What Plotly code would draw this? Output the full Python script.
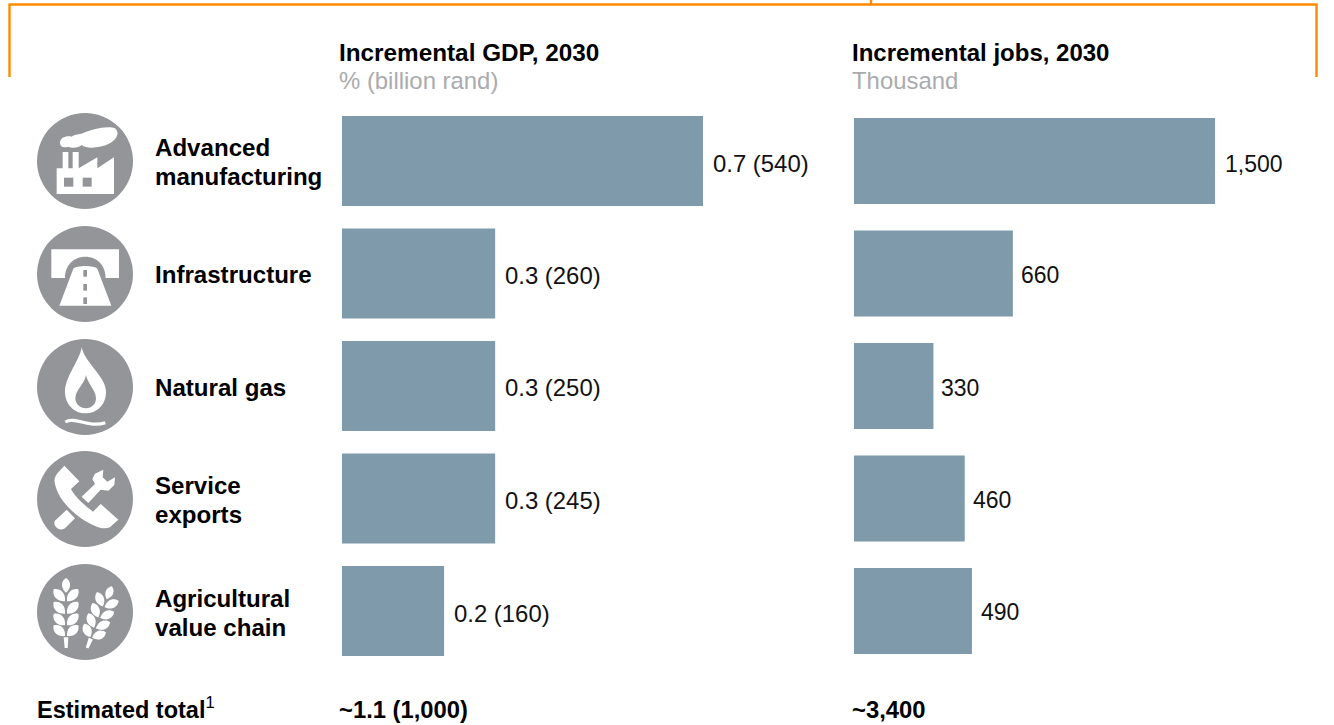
import math
import plotly.graph_objects as go

# ---------- data ----------
categories = ["Advanced<br>manufacturing", "Infrastructure", "Natural gas", "Service<br>exports", "Agricultural<br>value chain"]
gdp_values = [0.7, 0.297, 0.297, 0.297, 0.198]
gdp_labels = ["0.7 (540)", "0.3 (260)", "0.3 (250)", "0.3 (245)", "0.2 (160)"]
jobs_values = [1500, 660, 330, 460, 490]
jobs_labels = ["1,500", "660", "330", "460", "490"]
gdp_title = "Incremental GDP, 2030"
gdp_unit = "% (billion rand)"
jobs_title = "Incremental jobs, 2030"
jobs_unit = "Thousand"
total_label = "Estimated total"
gdp_total = "~1.1 (1,000)"
jobs_total = "~3,400"

# ---------- style ----------
W, H = 1334, 725
FONT = "Liberation Sans, Arial, sans-serif"
BAR = "#7E9AAB"
ICON = "#939598"
ORANGE = "#FF8A00"
SUB = "#A9ABAE"
FS = 24.1


def px(x):
    return x / W


def py(y):
    return 1 - y / H


def path(points_cmds, ox, oy, fill="white", line=None, lw=0):
    """Build a paper-referenced path from (cmd, x, y, ...) tuples given in 3x zoom units."""
    out = []
    for item in points_cmds:
        cmd, nums = item[0], item[1:]
        conv = []
        for i in range(0, len(nums), 2):
            conv.append(f"{px(ox + nums[i] / 3):.5f},{py(oy + nums[i + 1] / 3):.5f}")
        out.append(cmd + " ".join(conv))
    d = " ".join(out) + (" Z" if fill else "")
    s = dict(type="path", xref="paper", yref="paper", path=d, layer="above", line=dict(width=lw, color=line or "rgba(0,0,0,0)"))
    if fill:
        s["fillcolor"] = fill
    return s


def poly(pts, ox, oy, fill="white"):
    return path([("M",) + pts[0]] + [("L",) + p for p in pts[1:]], ox, oy, fill)


def ellipse_circle(cx, cy, r):
    return dict(type="circle", xref="paper", yref="paper", x0=px(cx - r), x1=px(cx + r), y0=py(cy + r), y1=py(cy - r),
                fillcolor=ICON, line=dict(width=0), layer="above")


shapes = []
# orange bracket
for (x0, y0, x1, y1) in [(8.5, 4.5, 1317.5, 4.5), (9.5, 4.5, 9.5, 77), (1316.5, 4.5, 1316.5, 77), (871, 0, 871, 4.5)]:
    shapes.append(dict(type="line", xref="paper", yref="paper", x0=px(x0), x1=px(x1), y0=py(y0), y1=py(y1),
                       line=dict(color=ORANGE, width=2.4)))

centers = [161, 274, 387, 499, 612]
for c in centers:
    shapes.append(ellipse_circle(85, c, 48))

# factory (3x units, zoom origin 0,0)
shapes.append(poly([(170, 582), (170, 505), (188, 505), (188, 456), (205, 456), (205, 505), (218, 505), (218, 456), (236, 456), (236, 505),
                    (292, 472), (292, 505), (342, 472), (342, 582)], 0, 0))
shapes.append(poly([(192, 533), (220, 533), (220, 560), (192, 560)], 0, 0, ICON))
shapes.append(poly([(248, 533), (275, 533), (275, 560), (248, 560)], 0, 0, ICON))
shapes.append(path([("M", 180, 428), ("C", 180, 412, 200, 406, 215, 410), ("C", 225, 402, 238, 405, 248, 400),
                    ("C", 270, 390, 320, 376, 345, 385), ("C", 358, 395, 355, 415, 330, 430), ("C", 300, 445, 260, 448, 245, 435),
                    ("C", 235, 445, 215, 445, 205, 440), ("C", 190, 445, 180, 440, 180, 428)], 0, 0))
# bridge / road
shapes.append(path([("M", 154, 748), ("L", 357, 748), ("L", 357, 834), ("L", 317, 834), ("C", 317, 795, 290, 770, 256, 770),
                    ("C", 222, 770, 195, 795, 195, 834), ("L", 154, 834)], 0, 0))
shapes.append(path([("M", 178, 917), ("L", 334, 917), ("L", 292, 806), ("C", 282, 795, 230, 795, 220, 806)], 0, 0))
for y0 in (810, 852, 892):
    shapes.append(poly([(250, y0), (261, y0), (261, y0 + 20), (250, y0 + 20)], 0, 0, ICON))
# gas flame (zoom origin 0,330)
shapes.append(path([("M", 245, 52), ("C", 240, 90, 195, 140, 195, 185), ("C", 195, 225, 225, 250, 256, 250),
                    ("C", 290, 250, 318, 225, 318, 185), ("C", 318, 140, 255, 100, 245, 52)], 0, 330))
shapes.append(path([("M", 258, 135), ("C", 255, 160, 226, 180, 226, 205), ("C", 226, 222, 240, 235, 258, 235),
                    ("C", 275, 235, 288, 222, 288, 205), ("C", 288, 180, 262, 160, 258, 135)], 0, 330, ICON))
shapes.append(path([("M", 196, 276), ("C", 225, 258, 265, 295, 316, 278)], 0, 330, fill=None, line="white", lw=3.2))
# phone and wrench (zoom origin 35,449)
shapes.append(path([("M", 88, 50), ("L", 133, 97), ("L", 108, 120), ("C", 122, 146, 148, 168, 174, 188), ("L", 197, 165), ("L", 250, 212),
                    ("L", 232, 228), ("C", 225, 238, 210, 240, 195, 236), ("C", 145, 222, 72, 165, 60, 105), ("C", 56, 92, 60, 82, 68, 72)], 35, 449))
shapes.append(poly([(140, 143), (180, 105), (172, 90), (180, 74), (205, 62), (203, 85), (217, 98), (240, 85), (238, 108), (220, 125),
                    (197, 122), (160, 162)], 35, 449))
shapes.append(path([("M", 95, 182), ("L", 120, 208), ("L", 90, 238), ("C", 80, 245, 66, 240, 60, 230), ("C", 56, 222, 58, 216, 63, 212)], 35, 449))


# wheat (zoom origin 35,562)
def leaf(bx, by, tx, ty, w):
    dx, dy = tx - bx, ty - by
    L = math.hypot(dx, dy)
    nx, ny = -dy / L * w, dx / L * w
    return [(bx, by), (bx + dx * .35 + nx, by + dy * .35 + ny), (bx + dx * .8 + nx * .8, by + dy * .8 + ny * .8), (tx, ty),
            (bx + dx * .8 - nx * .8, by + dy * .8 - ny * .8), (bx + dx * .35 - nx, by + dy * .35 - ny)]


grains = [(93, 92, 93, 48, 18)]
for b, t in [(118, 82), (155, 120), (190, 155), (222, 190)]:
    grains.append((96, b, 130, t, 20))
    grains.append((90, b, 56, t, 20))


def wheat(base_x, base_y, angle, scale):
    a = math.radians(angle)

    def tr(x, y):
        rx, ry = (x - 93) * scale, (y - 258) * scale
        return (base_x + rx * math.cos(a) - ry * math.sin(a), base_y + rx * math.sin(a) + ry * math.cos(a))

    for g in grains:
        p = [tr(*q) for q in leaf(*g)]
        shapes.append(path([("M",) + p[0], ("C",) + p[1] + p[2] + p[3], ("C",) + p[4] + p[5] + p[0]], 35, 562))
    shapes.append(poly([tr(86, 226), tr(100, 226), tr(98, 258), tr(89, 258)], 35, 562))


wheat(93, 258, 0, 1)
wheat(156, 258, 22, 0.95)

annotations = []


def note(text, x, y, size=FS, color="#000000", anchor="left"):
    annotations.append(dict(text=text, xref="paper", yref="paper", x=px(x), y=py(y), xanchor=anchor, yanchor="middle",
                            showarrow=False, font=dict(family=FONT, size=size, color=color), align="left"))


note(f"<b>{gdp_title}</b>", 337, 52, size=24.3)
note(gdp_unit, 337, 80, color=SUB, size=23.9)
note(f"<b>{jobs_title}</b>", 850, 52, size=24)
note(jobs_unit, 850, 80, color=SUB, size=23.9)
note(f"<b>{total_label}</b><sup>1</sup>", 35, 708, size=23.5)
note(f"<b>{gdp_total}</b>", 337, 709, size=23.8)
note(f"<b>{jobs_total}</b>", 850, 709, size=23.8)

label_ys = [162, 274, 387, 500, 613]
for cat, y in zip(categories, label_ys):
    lines = cat.split("<br>")
    for i, line in enumerate(lines):
        note(f"<b>{line}</b>", 153, y + (i - (len(lines) - 1) / 2) * 29)

gdp_shift = [8, 8, 8, 8, 8]
jobs_shift = [8, 6, 6, 6, 7]
gdp_yshift = [-3, -2, -2, -2, -2]
jobs_yshift = [-3, -2, -2, -2, -1]
for cat, v, t, sh, ys in zip(categories, gdp_values, gdp_labels, gdp_shift, gdp_yshift):
    annotations.append(dict(text=t, xref="x", yref="y", x=v, y=cat, xanchor="left", yanchor="middle", xshift=sh, yshift=ys,
                            showarrow=False, font=dict(family=FONT, size=23.9, color="#111111")))
for cat, v, t, sh, ys in zip(categories, jobs_values, jobs_labels, jobs_shift, jobs_yshift):
    annotations.append(dict(text=t, xref="x2", yref="y", x=v, y=cat, xanchor="left", yanchor="middle", xshift=sh, yshift=ys,
                            showarrow=False, font=dict(family=FONT, size=23, color="#111111")))

fig = go.Figure()
fig.add_trace(go.Bar(y=categories, x=gdp_values, orientation="h", xaxis="x", yaxis="y", width=0.8,
                     marker=dict(color=BAR, line=dict(width=0)), showlegend=False))
fig.add_trace(go.Bar(y=categories, x=jobs_values, orientation="h", xaxis="x2", yaxis="y", width=0.765,
                     marker=dict(color=BAR, line=dict(width=0)), showlegend=False))

fig.update_layout(
    width=W, height=H, margin=dict(l=0, r=0, t=0, b=0), paper_bgcolor="white", plot_bgcolor="white", barmode="overlay",
    font=dict(family=FONT),
    xaxis=dict(domain=[px(342), px(832)], range=[0, 490 / 515.7], visible=False, anchor="y"),
    xaxis2=dict(domain=[px(854), px(1300)], range=[0, 446 / 0.2407], visible=False, anchor="y"),
    yaxis=dict(domain=[py(667.25), py(104.75)], type="category", categoryorder="array", categoryarray=categories,
               range=[4.5, -0.5], visible=False),
    shapes=shapes, annotations=annotations,
)
fig.write_html("out.html", config=dict(displayModeBar=False),
               post_script="document.body.style.margin='0';document.body.style.overflow='hidden';")
